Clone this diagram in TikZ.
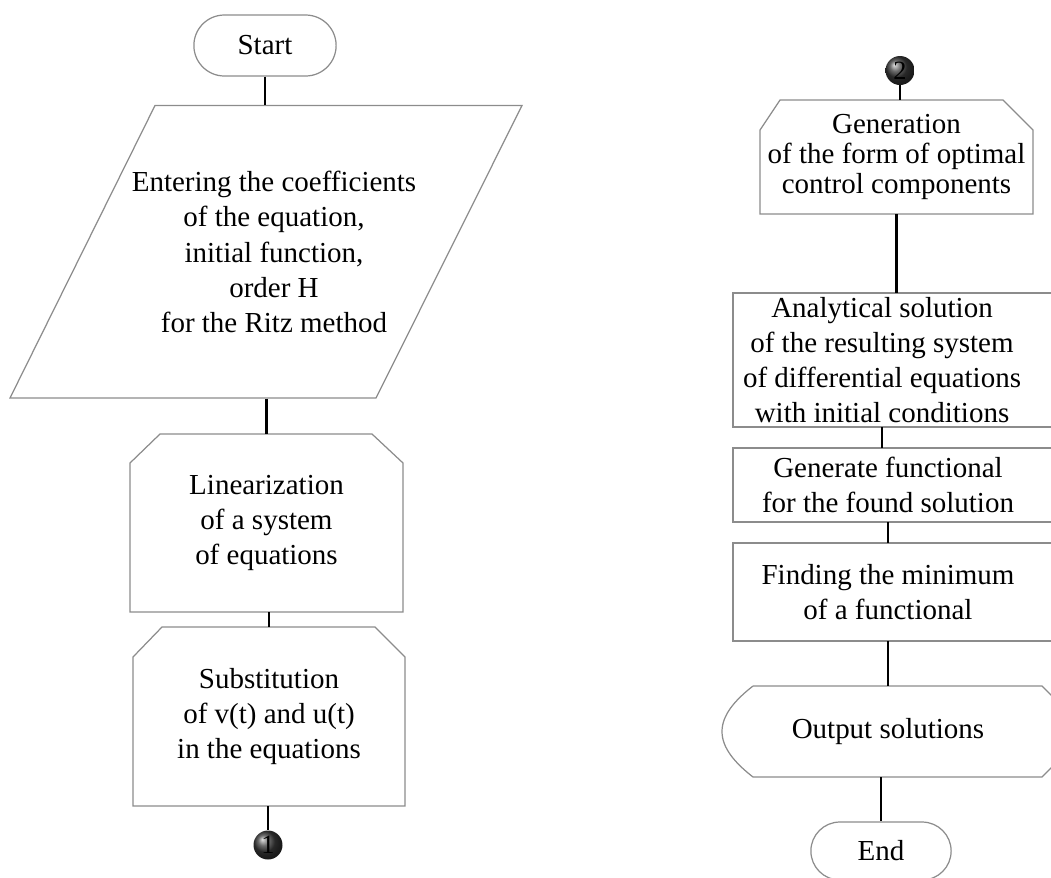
\documentclass[tikz,border=0pt]{standalone}
\usepackage{fontspec}
\setmainfont{Liberation Serif}
\usetikzlibrary{shapes.misc}

\begin{document}
\begin{tikzpicture}[x=0.02cm,y=-0.02cm,
  lbl/.style={align=center,inner sep=0pt,font=\fontsize{16.5}{20}\selectfont},
  frame/.style={draw=gray!90,line width=0.7pt},
  term/.style={rounded rectangle,draw=gray!90,line width=0.7pt,font=\fontsize{16.5}{20}\selectfont},
  flow/.style={line width=1.3pt},
  joint/.style={circle,minimum size=0.58cm,inner sep=0pt,ball color=gray!45!black,font=\fontsize{15}{15}\selectfont}]
\useasboundingbox (0,0) rectangle (1051,877);
\clip (0,0) rectangle (1051,877);

% left column
\node[term,minimum width=3.08cm,minimum height=1.22cm] (start) at (265,45.5) {Start};
\draw[frame] (155,105.5) -- (522,105.5) -- (376,398) -- (10,398) -- cycle;
\node[lbl,minimum height=5.85cm] (inp) at (274,252) {Entering the coefficients\\of the equation,\\initial function,\\order H\\for the Ritz method};
\draw[frame] (130,463) -- (160,434) -- (372,434) -- (403,463) -- (403,612) -- (130,612) -- cycle;
\node[lbl,minimum height=3.56cm] (lin) at (266.5,523) {Linearization\\of a system\\of equations};
\draw[frame] (133,657) -- (162,627) -- (375,627) -- (405,657) -- (405,806) -- (133,806) -- cycle;
\node[lbl,minimum height=3.58cm] (sub) at (269,716.5) {Substitution\\of v(t) and u(t)\\in the equations};
\node[joint] (c1) at (268,845) {1};

% right column
\node[joint] (c2) at (900,70.5) {2};
\draw[frame] (760,130) -- (780,100) -- (1003,100) -- (1033,130) -- (1033,214) -- (760,214) -- cycle;
\node[lbl,minimum height=2.28cm,font=\fontsize{16.5}{17}\selectfont] (gen) at (896.5,157) {Generation\\of the form of optimal\\control components};
\draw[frame] (733,293) rectangle (1080,427);
\node[lbl,minimum height=2.68cm] (ana) at (882,360) {Analytical solution\\of the resulting system\\of differential equations\\with initial conditions};
\draw[frame] (733,448) rectangle (1080,522);
\node[lbl,minimum height=1.48cm] (fun) at (888,485) {Generate functional\\for the found solution};
\draw[frame] (733,543) rectangle (1080,641);
\node[lbl,minimum height=1.96cm] (mini) at (888,592) {Finding the minimum\\of a functional};
\draw[frame] (753,686) -- (1042,686) -- (1075,719) -- (1075,744) -- (1042,777) -- (753,777)
  .. controls (735,763) and (722,748) .. (722,731.5) .. controls (722,715) and (735,700) .. (753,686);
\node[lbl,minimum height=1.82cm] (out) at (888,731.5) {Output solutions};
\node[term,minimum width=3.04cm,minimum height=1.16cm] (end) at (881,851) {End};

% connectors
\draw[flow] (start.south) -- (start.south |- inp.north);
\draw[flow] (lin.north |- inp.south) -- (lin.north);
\draw[flow] (sub.north |- lin.south) -- (sub.north);
\draw[flow] (c1.north |- sub.south) -- (c1.north);
\draw[flow] (c2.south) -- (c2.south |- gen.north);
\draw[flow] (gen.south) -- (gen.south |- ana.north);
\draw[flow] (ana.south) -- (ana.south |- fun.north);
\draw[flow] (fun.south) -- (fun.south |- mini.north);
\draw[flow] (mini.south) -- (mini.south |- out.north);
\draw[flow] (end.north |- out.south) -- (end.north);
\end{tikzpicture}
\end{document}
